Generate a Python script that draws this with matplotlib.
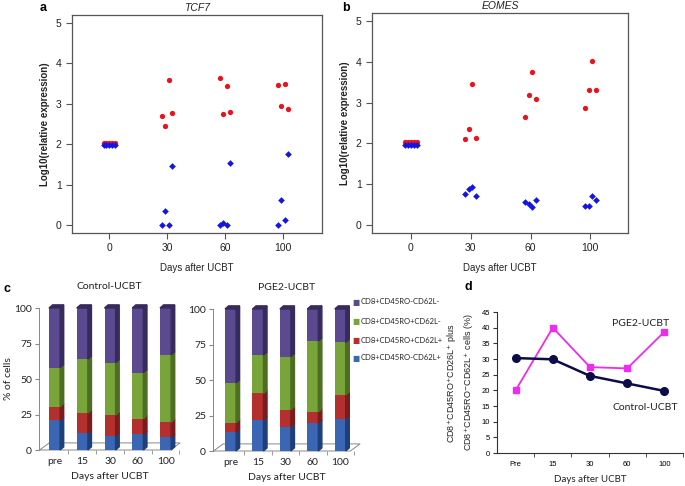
import numpy as np
import matplotlib
matplotlib.use('Agg')
import matplotlib.pyplot as plt
from matplotlib.patches import Polygon

plt.rcParams['font.family'] = ['Liberation Sans', 'DejaVu Sans']

# ---- panels a / b : qPCR expression
days = ['0', '30', '60', '100']
tcf7_red = [[2.04] * 5, [2.70, 2.45, 3.60, 2.78], [3.63, 2.75, 3.45, 2.80], [3.47, 2.95, 3.48, 2.88]]
tcf7_blue = [[1.97] * 5, [0.0, 0.35, 0.0, 1.45], [0.0, 0.05, 0.0, 1.53], [0.0, 0.62, 0.12, 1.76]]
eomes_red = [[2.04] * 5, [2.10, 2.35, 3.45, 2.12], [2.65, 3.18, 3.75, 3.08], [2.88, 3.32, 4.03, 3.30]]
eomes_blue = [[1.97] * 5, [0.75, 0.87, 0.93, 0.72], [0.55, 0.50, 0.43, 0.62], [0.47, 0.47, 0.72, 0.60]]

# ---- panel c : subset composition (% of cells)
stages = ['pre', '15', '30', '60', '100']
subsets = ['CD8+CD45RO-CD62L-', 'CD8+CD45RO+CD62L-', 'CD8+CD45RO+CD62L+', 'CD8+CD45RO-CD62L+']
ctrl_blue = [21, 12, 10, 11, 9]
ctrl_red = [9.5, 14, 14.5, 11, 10.5]
ctrl_green = [27.5, 38, 37, 32.5, 47.5]
ctrl_purple = [42, 36, 38.5, 45.5, 33]
pge2_blue = [13.5, 22, 17, 19.5, 22.5]
pge2_red = [6.5, 18.5, 12, 8, 17]
pge2_green = [28, 27, 37.5, 50, 37]
pge2_purple = [52, 32.5, 33.5, 22.5, 23.5]

# ---- panel d
d_days = ['Pre', '15', '30', '60', '100']
ctrl_d = [30.3, 29.9, 24.6, 22.2, 19.8]
pge2_d = [20.0, 40.0, 27.4, 27.0, 38.7]

W, H = 685, 486
fig = plt.figure(figsize=(6.85, 4.86), dpi=100)


def px_axes(l, t, r, b):
    return fig.add_axes([l / W, 1 - b / H, (r - l) / W, (b - t) / H])


def jitter(n):
    step = 0.048 if n == 5 else 0.06
    return (np.arange(n) - (n - 1) / 2) * step


def dot_panel(ax, red, blue, title, xl):
    for i in range(len(days)):
        ax.plot(i + jitter(len(blue[i])), blue[i], 'D', color='#1414e6', ms=3.4, mec='none', zorder=3)
    for i in range(len(days)):
        ax.plot(i + jitter(len(red[i])), red[i], 'o', color='#e8141c', ms=3.8, mec='none',
                zorder=2 if i == 0 else 4)
    ax.set_xlim(*xl)
    ax.set_ylim(-0.2, 5.2)
    ax.set_xticks(range(len(days)))
    ax.set_xticklabels(days)
    ax.set_yticks(range(6))
    for s in ax.spines.values():
        s.set_color('#555555')
        s.set_linewidth(0.9)
    ax.tick_params(length=4, width=0.8, color='#555555', labelsize=7.5, labelcolor='#222222')
    ax.set_title(title, fontsize=7.5, style='italic', pad=3, color='#222222')
    ax.set_xlabel('Days after UCBT', fontsize=7, labelpad=7, color='#222222')
    ax.set_ylabel('Log10(relative expression)', fontsize=7, fontweight='bold', color='#222222')


ax_a = px_axes(72, 15, 322, 233)
dot_panel(ax_a, tcf7_red, tcf7_blue, 'TCF7', (-0.64, 3.67))
ax_b = px_axes(372, 13, 628, 233)
dot_panel(ax_b, eomes_red, eomes_blue, 'EOMES', (-0.65, 3.63))

fig.text(40 / W, 1 - 8 / H, 'a', fontsize=9, fontweight='bold', va='center')
fig.text(342 / W, 1 - 8 / H, 'b', fontsize=9, fontweight='bold', va='center')

# ---- panel c
front = ['#3a66b4', '#b3302f', '#78a43a', '#5b4a8f']
side = ['#1f3f7a', '#7a1c1c', '#4d6e22', '#372b5e']
cfont = ['Lato', 'DejaVu Sans']


def bar3d(ax, segs, title, xl):
    x = np.arange(len(stages))
    w, dx, dy = 0.4, 0.13, 2.2
    bottom = np.zeros(len(stages))
    for k, vals in enumerate(segs):
        vals = np.array(vals, dtype=float)
        ax.bar(x, vals, w, bottom=bottom, color=front[k], zorder=3)
        for xi, b0, v in zip(x, bottom, vals):
            ax.add_patch(Polygon([(xi + w / 2, b0), (xi + w / 2 + dx, b0 + dy),
                                  (xi + w / 2 + dx, b0 + v + dy), (xi + w / 2, b0 + v)],
                                 closed=True, color=side[k], zorder=3, clip_on=False))
            if k == len(segs) - 1:
                top = b0 + v
                ax.add_patch(Polygon([(xi - w / 2, top), (xi - w / 2 + dx, top + dy),
                                      (xi + w / 2 + dx, top + dy), (xi + w / 2, top)],
                                     closed=True, color=side[k], zorder=3, clip_on=False))
        bottom = bottom + vals
    ax.set_xlim(*xl)
    ax.set_ylim(0, 100)
    # floor of the 3d box
    x0, x1 = xl[0] + 0.02, xl[1] - 0.35
    fx, fy = 0.35, 5
    ax.plot([x0, x0 + fx, x1 + fx, x1, x0], [0, fy, fy, 0, 0], color='#888888', lw=0.7,
            clip_on=False, zorder=2)
    ax.set_xticks(x)
    ax.set_xticklabels(stages)
    ax.set_xticks(np.arange(len(stages)) + 0.5, minor=True)
    ax.set_yticks([0, 25, 50, 75, 100])
    for s in ['top', 'right', 'bottom']:
        ax.spines[s].set_visible(False)
    ax.spines['left'].set_color('#888888')
    ax.spines['left'].set_linewidth(0.7)
    ax.tick_params(axis='x', which='major', length=0, pad=5)
    ax.tick_params(axis='x', which='minor', length=3, color='#888888')
    ax.tick_params(axis='y', length=3, color='#888888', pad=2)
    for lab in ax.get_xticklabels() + ax.get_yticklabels():
        lab.set_family(cfont)
        lab.set_fontsize(7.5)
        lab.set_color('#222222')
    ax.set_title(title, fontsize=7.5, family=cfont, pad=14, color='#222222')
    ax.set_xlabel('Days after UCBT', fontsize=7.5, family=cfont, labelpad=4, color='#222222')


ax_c1 = px_axes(39, 308, 180, 450)
bar3d(ax_c1, [ctrl_blue, ctrl_red, ctrl_green, ctrl_purple], 'Control-UCBT', (-0.56, 4.52))
ax_c1.set_ylabel('% of cells', fontsize=7.5, family=cfont, labelpad=1, color='#222222')

ax_c2 = px_axes(213, 309, 360, 451)
bar3d(ax_c2, [pge2_blue, pge2_red, pge2_green, pge2_purple], 'PGE2-UCBT', (-0.64, 4.72))

legend_y = [302, 321, 340, 358]
for name, col, yy in zip(subsets, front[::-1], legend_y):
    fig.text(352 / W, 1 - yy / H, '\u25A0', color=col, fontsize=5.5, va='center',
             family=['DejaVu Sans'])
    fig.text(361 / W, 1 - yy / H, name, fontsize=5.5, va='center', family=cfont,
             color='#222222')

fig.text(3 / W, 1 - 289 / H, 'c', fontsize=9, fontweight='bold', va='center')

# ---- panel d
ax_d = px_axes(497, 312, 683, 453)
xd = np.arange(len(d_days))
ax_d.plot(xd, pge2_d, '-s', color='#ee2bee', lw=1.3, ms=5, mec='#ee2bee', zorder=3)
ax_d.plot(xd, ctrl_d, '-o', color='#0c0c48', lw=1.8, ms=5.5, zorder=4)
ax_d.set_xlim(-0.5, 4.5)
ax_d.set_ylim(0, 45)
ax_d.set_yticks(range(0, 50, 5))
ax_d.set_xticks(xd)
ax_d.set_xticklabels(d_days)
ax_d.set_xticks(np.arange(len(d_days)) + 0.5, minor=True)
for s in ['top', 'right']:
    ax_d.spines[s].set_visible(False)
for s in ['left', 'bottom']:
    ax_d.spines[s].set_color('#333333')
    ax_d.spines[s].set_linewidth(0.8)
ax_d.tick_params(axis='x', which='major', length=0, pad=6, labelsize=5.5)
ax_d.tick_params(axis='x', which='minor', length=3, color='#333333')
ax_d.tick_params(axis='y', length=3, color='#333333', labelsize=5.5, pad=2)
ax_d.set_xlabel('Days after UCBT', fontsize=7, family=cfont, labelpad=5, color='#222222')
ax_d.set_ylabel('CD8$^{+}$CD45RO$^{+}$CD26L$^{+}$ plus\nCD8$^{+}$CD45RO$^{-}$CD62L$^{+}$ cells (%)',
                fontsize=6.5, labelpad=4, linespacing=1.3, color='#222222')
ax_d.text(2.6, 40.5, 'PGE2-UCBT', fontsize=7.5, family=cfont, color='#222222')
ax_d.text(2.6, 13.8, 'Control-UCBT', fontsize=7.5, family=cfont, color='#222222')
fig.text(465 / W, 1 - 287 / H, 'd', fontsize=9, fontweight='bold', va='center')

fig.savefig('out.png', dpi=100)
